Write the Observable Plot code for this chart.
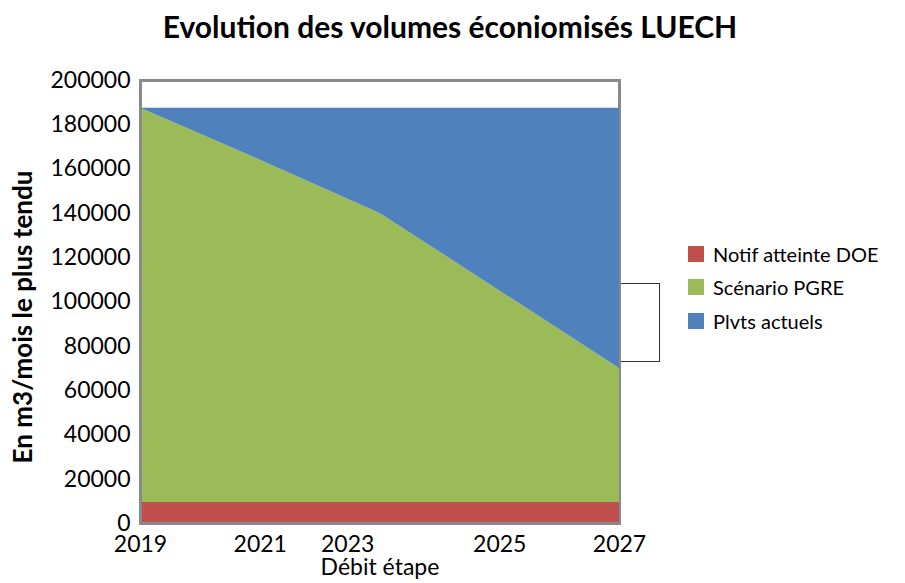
<!DOCTYPE html>
<html>
<head>
<meta charset="utf-8">
<script src="https://cdn.jsdelivr.net/npm/d3@7"></script>
<script src="https://cdn.jsdelivr.net/npm/@observablehq/plot@0.6"></script>
<style>
  body { margin: 0; background: #fff; }
  #wrap { position: relative; width: 905px; height: 583px; font-family: Lato, "Open Sans", sans-serif; color: #000; overflow: hidden; }
  #title { position: absolute; left: 0; top: 8px; width: 900px; text-align: center; font-weight: bold; font-size: 30px; }
  #legend { position: absolute; left: 688px; top: 237px; font-size: 20px; }
  .row { display: flex; align-items: center; height: 33.5px; }
  .sw { width: 16px; height: 16px; margin-right: 9px; }
  #box { position: absolute; left: 617px; top: 283px; width: 41px; height: 77px; border: 1px solid #333; background: #fff; }
  svg { position: absolute; left: 0; top: 0; }
</style>
</head>
<body>
<div id="wrap">
  <div id="title">Evolution des volumes éconiomisés LUECH</div>
  <div id="box"></div>
  <div id="legend"></div>
</div>
<script>
const years = [2019, 2021, 2023, 2025, 2027];
const seriesNames = ["Notif atteinte DOE", "Scénario PGRE", "Plvts actuels"];
const notif = [9500, 9500, 9500, 9500, 9500];
const pgre = [178000, 154500, 130500, 95500, 60500];
const plvts = [0, 23500, 47500, 82500, 117500];
const colors = ["#C0504D", "#9BBB59", "#4F81BD"];
const yTicks = [0, 20000, 40000, 60000, 80000, 100000, 120000, 140000, 160000, 180000, 200000];
const xTickValues = [2019, 2021, 2022.46, 2025, 2027];
const xTickLabels = ["2019", "2021", "2023", "2025", "2027"];

const values = [notif, pgre, plvts];
const data = [];
seriesNames.forEach((s, i) => years.forEach((yr, j) => data.push({series: s, year: yr, value: values[i][j]})));

const chart = Plot.plot({
  width: 905,
  height: 583,
  marginLeft: 140,
  marginRight: 286,
  marginTop: 80,
  marginBottom: 60,
  style: {fontFamily: "Lato, 'Open Sans', sans-serif", fontSize: "23px", color: "#000", background: "transparent"},
  x: {domain: [2019, 2027], label: null},
  y: {domain: [0, 200000], label: null},
  color: {domain: seriesNames, range: colors},
  marks: [
    Plot.frame({stroke: "#898989", strokeWidth: 3}),
    Plot.areaY(data, {x: "year", y: "value", fill: "series", order: seriesNames}),
    Plot.ruleX([2019], {stroke: "#898989", strokeWidth: 3}),
    Plot.ruleY([0], {stroke: "#898989", strokeWidth: 3}),
    Plot.axisY({ticks: yTicks, tickFormat: d => String(d), tickSize: 0, tickPadding: 10,
      label: "En m3/mois le plus tendu", labelAnchor: "center", labelArrow: "none", labelOffset: 127,
      fontSize: 23}),
    Plot.axisX({ticks: xTickValues, tickFormat: (d, i) => xTickLabels[i], tickSize: 0, tickPadding: 12,
      label: "Débit étape", labelAnchor: "center", labelArrow: "none", labelOffset: 51, fontSize: 23})
  ]
});
document.getElementById("wrap").appendChild(chart);

// style axis labels
d3.select(chart).selectAll("g[aria-label='y-axis label']")
  .attr("transform", function() { return (this.getAttribute("transform") || "") + " translate(0,15)"; })
  .selectAll("text").attr("font-weight", "bold").attr("font-size", 26);
d3.select(chart).selectAll("g[aria-label='x-axis label'] text").attr("font-size", 23);

const lg = document.getElementById("legend");
seriesNames.forEach((s, i) => {
  const r = document.createElement("div"); r.className = "row";
  const sw = document.createElement("div"); sw.className = "sw"; sw.style.background = colors[i];
  const t = document.createElement("span"); t.textContent = s;
  r.appendChild(sw); r.appendChild(t); lg.appendChild(r);
});
</script>
</body>
</html>
